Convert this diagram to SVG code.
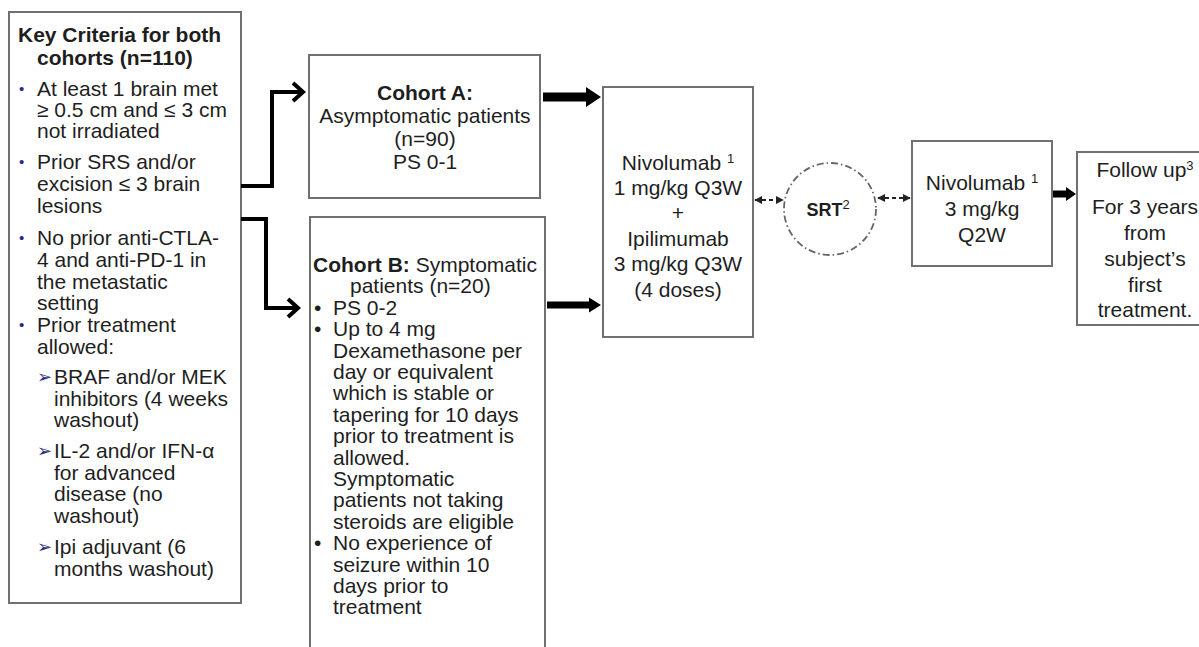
<svg xmlns="http://www.w3.org/2000/svg" width="1199" height="647" viewBox="0 0 1199 647">
<style>
.box{fill:#fff;stroke:#707070;stroke-width:2}
.t{font-family:"Liberation Sans",Arial,sans-serif;font-size:21px;fill:#1e1e1e}
.b{font-weight:bold}
.c{text-anchor:middle}
.nb{font-family:"Liberation Sans",Arial,sans-serif;font-size:15px;fill:#2a2a80}
.arr{font-family:"DejaVu Sans",sans-serif;font-size:18px;fill:#2a2a80}
.sup{font-size:13px}
.conn{fill:none;stroke:#000;stroke-width:4}
.blk{fill:#000}
.dash{fill:none;stroke:#222;stroke-width:1.8;stroke-dasharray:4 3}
</style>
<defs>
<marker id="ah" viewBox="0 0 10 10" refX="9" refY="5" markerWidth="8" markerHeight="8" orient="auto-start-reverse" markerUnits="userSpaceOnUse">
<path d="M0,0 L10,5 L0,10 Z" fill="#222"/>
</marker>
</defs>
<rect width="1199" height="647" fill="#fff"/>

<g id="criteria">
<rect class="box" x="9" y="12" width="232" height="591"/>
<text class="t b" x="18" y="42">Key Criteria for both</text>
<text class="t b" x="37" y="65">cohorts (n=110)</text>
<text class="nb" x="19" y="94">•</text>
<text class="t" x="37" y="96">At least 1 brain met</text>
<text class="t" x="37" y="117">≥ 0.5 cm and ≤ 3 cm</text>
<text class="t" x="37" y="138">not irradiated</text>
<text class="nb" x="19" y="167">•</text>
<text class="t" x="37" y="169">Prior SRS and/or</text>
<text class="t" x="37" y="191">excision ≤ 3 brain</text>
<text class="t" x="37" y="213">lesions</text>
<text class="nb" x="19" y="243">•</text>
<text class="t" x="37" y="245">No prior anti-CTLA-</text>
<text class="t" x="37" y="267">4 and anti-PD-1 in</text>
<text class="t" x="37" y="289">the metastatic</text>
<text class="t" x="37" y="310">setting</text>
<text class="nb" x="19" y="330">•</text>
<text class="t" x="37" y="332">Prior treatment</text>
<text class="t" x="37" y="354">allowed:</text>
<text class="arr" x="37" y="383">➢</text>
<text class="t" x="54" y="384">BRAF and/or MEK</text>
<text class="t" x="54" y="406">inhibitors (4 weeks</text>
<text class="t" x="54" y="427">washout)</text>
<text class="arr" x="37" y="457">➢</text>
<text class="t" x="54" y="458">IL-2 and/or IFN-α</text>
<text class="t" x="54" y="480">for advanced</text>
<text class="t" x="54" y="501">disease (no</text>
<text class="t" x="54" y="523">washout)</text>
<text class="arr" x="37" y="553">➢</text>
<text class="t" x="54" y="554">Ipi adjuvant (6</text>
<text class="t" x="54" y="576">months washout)</text>
</g>

<g id="cohortA">
<rect class="box" x="309" y="55" width="231" height="143"/>
<text class="t b c" x="425" y="100">Cohort A:</text>
<text class="t c" x="425" y="123">Asymptomatic patients</text>
<text class="t c" x="425" y="146">(n=90)</text>
<text class="t c" x="425" y="169">PS 0-1</text>
</g>

<g id="cohortB">
<rect class="box" x="310" y="217" width="235" height="440"/>
<text class="t" x="313" y="272"><tspan class="b">Cohort B:</tspan> Symptomatic</text>
<text class="t" x="350" y="293.4">patients (n=20)</text>
<text class="t" x="314" y="314.8">•</text>
<text class="t" x="333" y="314.8">PS 0-2</text>
<text class="t" x="314" y="336.2">•</text>
<text class="t" x="333" y="336.2">Up to 4 mg</text>
<text class="t" x="333" y="357.6">Dexamethasone per</text>
<text class="t" x="333" y="379">day or equivalent</text>
<text class="t" x="333" y="400.4">which is stable or</text>
<text class="t" x="333" y="421.8">tapering for 10 days</text>
<text class="t" x="333" y="443.2">prior to treatment is</text>
<text class="t" x="333" y="464.6">allowed.</text>
<text class="t" x="333" y="486">Symptomatic</text>
<text class="t" x="333" y="507.4">patients not taking</text>
<text class="t" x="333" y="528.8">steroids are eligible</text>
<text class="t" x="314" y="550.2">•</text>
<text class="t" x="333" y="550.2">No experience of</text>
<text class="t" x="333" y="571.6">seizure within 10</text>
<text class="t" x="333" y="593">days prior to</text>
<text class="t" x="333" y="614.4">treatment</text>
</g>

<g id="nivoIpi">
<rect class="box" x="603" y="87" width="150" height="250"/>
<text class="t c" x="678" y="170">Nivolumab <tspan class="sup" dy="-7">1</tspan></text>
<text class="t c" x="678" y="195">1 mg/kg Q3W</text>
<text class="t c" x="678" y="220">+</text>
<text class="t c" x="678" y="246">Ipilimumab</text>
<text class="t c" x="678" y="271">3 mg/kg Q3W</text>
<text class="t c" x="678" y="297">(4 doses)</text>
</g>

<g id="srt">
<circle cx="830" cy="209" r="46" fill="#fff" stroke="#666" stroke-width="1.8" stroke-dasharray="7 3 1.5 3"/>
<text class="t b c" x="828" y="216" style="font-size:18px">SRT<tspan style="font-weight:normal;font-size:13px" dy="-7">2</tspan></text>
</g>

<g id="nivo">
<rect class="box" x="912" y="141" width="140" height="125"/>
<text class="t c" x="982" y="190">Nivolumab <tspan class="sup" dy="-7">1</tspan></text>
<text class="t c" x="982" y="216">3 mg/kg</text>
<text class="t c" x="982" y="242">Q2W</text>
</g>

<g id="followup">
<rect class="box" x="1077" y="152" width="135" height="173"/>
<text class="t c" x="1145" y="177">Follow up<tspan class="sup" dy="-7">3</tspan></text>
<text class="t c" x="1145" y="214">For 3 years</text>
<text class="t c" x="1145" y="240">from</text>
<text class="t c" x="1145" y="266">subject’s</text>
<text class="t c" x="1145" y="292">first</text>
<text class="t c" x="1145" y="317">treatment.</text>
</g>

<g id="connectors">
<path class="conn" d="M241,186 H272 V92 H302"/>
<path class="conn" d="M293,83 L303,92 L293,101"/>
<path class="conn" d="M241,219 H266 V308 H297"/>
<path class="conn" d="M288,299 L298,308 L288,317"/>
<polygon class="blk" points="543,92.5 586,92.5 586,87 601,97 586,107 586,101.5 543,101.5"/>
<polygon class="blk" points="547,301.5 589,301.5 589,297.5 601,305 589,312.5 589,308.5 547,308.5"/>
<polygon class="blk" points="1053,190.5 1066,190.5 1066,187 1076,194 1066,201 1066,197.5 1053,197.5"/>
<path class="dash" d="M755,200 H783" marker-start="url(#ah)" marker-end="url(#ah)"/>
<path class="dash" d="M878,198 H910" marker-start="url(#ah)" marker-end="url(#ah)"/>
</g>
</svg>
